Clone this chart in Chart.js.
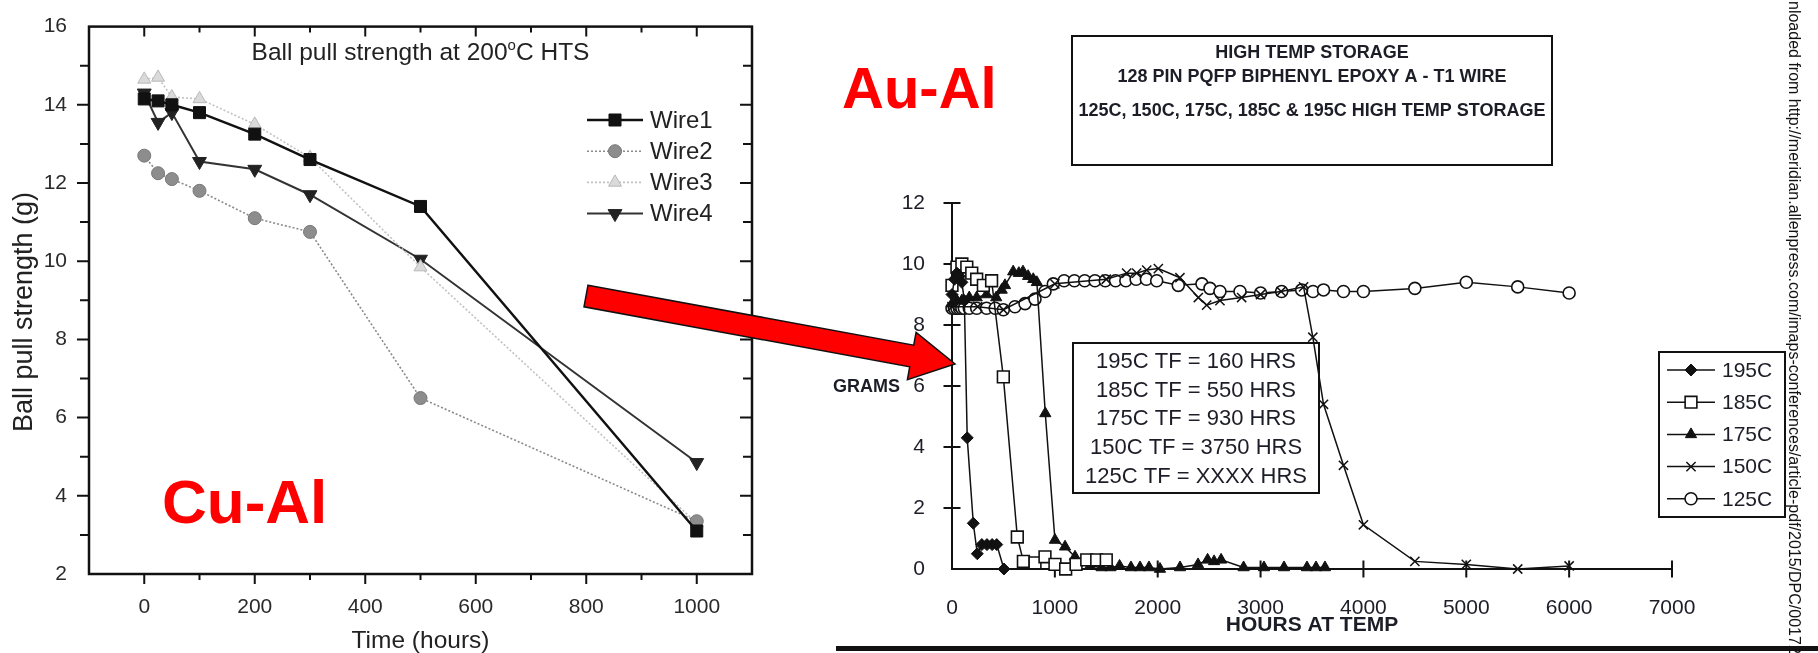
<!DOCTYPE html>
<html>
<head>
<meta charset="utf-8">
<script src="https://cdn.jsdelivr.net/npm/chart.js@4.4.1/dist/chart.umd.min.js"></script>
<style>
  html, body { margin:0; padding:0; background:#fff; }
  body { width:1818px; height:653px; position:relative; overflow:hidden; font-family:"Liberation Sans", Arial, sans-serif; }
  #cl { position:absolute; left:0; top:0; }
  #cr { position:absolute; left:780px; top:0; }
  .tag { position:absolute; color:#f00; font-weight:bold; line-height:1; white-space:nowrap; }
  #cu { left:162px; top:471px; font-size:62px; }
  #au { left:842px; top:59px; font-size:58px; }
  #src { position:absolute; left:1803px; top:1px; transform-origin:0 0; transform:rotate(90deg);
         white-space:nowrap; font-size:16px; line-height:18px; color:#111; }
  #rule { position:absolute; left:836px; top:646px; width:982px; height:5px; background:#111; }
  #arrow { position:absolute; left:0; top:0; }
</style>
</head>
<body>
<canvas id="cl" width="780" height="653"></canvas>
<canvas id="cr" width="1038" height="653"></canvas>
<div class="tag" id="cu">Cu-Al</div>
<div class="tag" id="au">Au-Al</div>
<div id="src">nloaded from http://meridian.allenpress.com/imaps-conferences/article-pdf/2015/DPC/00172</div>
<div id="rule"></div>
<svg id="arrow" width="1818" height="653"><polygon id="arrowPoly" fill="#f00" stroke="#111" stroke-width="1.5"/></svg>
<script>
const FONT = '"Liberation Sans", Arial, Helvetica, sans-serif';

// ---- Cu-Al panel: ball pull strength at 200C HTS
const wireHours = [0, 25, 50, 100, 200, 300, 500, 1000];
const wire1 = [14.15, 14.1, 14.0, 13.8, 13.25, 12.6, 11.4, 3.1];
const wire2 = [12.7, 12.25, 12.1, 11.8, 11.1, 10.75, 6.5, 3.35];
const wire3 = [14.65, 14.7, 14.2, 14.15, 13.5, 12.65, 9.85, 3.3];
const wire4 = [14.3, 13.55, 13.8, 12.55, 12.35, 11.7, 10.05, 4.85];
const wireNames = ['Wire1', 'Wire2', 'Wire3', 'Wire4'];
const leftXLabels = [0, 200, 400, 600, 800, 1000];
const leftYLabels = [2, 4, 6, 8, 10, 12, 14, 16];
const leftTitle = ['Ball pull strength at 200', 'o', 'C HTS'];
const leftXTitle = 'Time (hours)';
const leftYTitle = 'Ball pull strength (g)';

// ---- Au-Al panel: high temp storage, grams vs hours
const h195 = [0, 24, 48, 72, 96, 120, 148, 207, 246, 290, 340, 390, 435, 505];
const g195 = [9.0, 9.5, 9.7, 9.6, 9.4, 8.8, 4.3, 1.5, 0.5, 0.8, 0.8, 0.8, 0.8, 0.0];
const h185 = [0, 48, 96, 144, 192, 240, 305, 385, 499, 635, 694, 807, 904, 1001, 1105, 1206, 1310, 1407, 1500];
const g185 = [9.3, 9.9, 10.0, 9.9, 9.7, 9.5, 9.3, 9.45, 6.3, 1.05, 0.25, 0.2, 0.4, 0.15, 0.0, 0.15, 0.3, 0.3, 0.3];
const h175 = [0, 48, 96, 168, 240, 336, 430, 483, 515, 595, 650, 690, 740, 790, 825, 907, 1001, 1099, 1196,
              1342, 1454, 1541, 1629, 1740, 1828, 1915, 2022, 2217, 2392, 2485, 2548, 2616, 2835, 3033, 3228, 3451, 3539, 3626];
const g175 = [8.7, 8.8, 8.8, 8.9, 8.9, 9.0, 8.9, 9.15, 9.3, 9.75, 9.7, 9.75, 9.6, 9.5, 9.4, 5.1, 0.95, 0.73, 0.4,
              0.1, 0.05, 0.05, 0.1, 0.05, 0.05, 0.05, 0.0, 0.05, 0.15, 0.3, 0.25, 0.3, 0.05, 0.05, 0.05, 0.05, 0.05, 0.05];
const h150 = [0, 250, 500, 1000, 1500, 1698, 1795, 1893, 2006, 2216, 2395, 2476, 2605, 2816, 3000, 3200, 3418, 3508, 3612, 3806, 4000, 4500, 5000, 5500, 6000];
const g150 = [8.6, 8.6, 8.5, 9.35, 9.5, 9.7, 9.7, 9.8, 9.85, 9.55, 8.9, 8.65, 8.8, 8.9, 9.0, 9.1, 9.25, 7.6, 5.4, 3.4, 1.45, 0.25, 0.15, 0.0, 0.1];
const h125 = [0, 24, 48, 72, 96, 120, 168, 240, 336, 420, 499, 612, 710, 807, 904, 985,
              1090, 1190, 1290, 1390, 1490, 1590, 1690, 1790, 1890, 1990,
              2200, 2430, 2508, 2605, 2800, 3000, 3205, 3400, 3510, 3612, 3806, 4000, 4500, 5000, 5500, 6000];
const g125 = [8.55, 8.55, 8.55, 8.55, 8.55, 8.55, 8.55, 8.55, 8.55, 8.55, 8.5, 8.6, 8.7, 8.85, 9.1, 9.35,
              9.45, 9.45, 9.45, 9.45, 9.45, 9.45, 9.45, 9.5, 9.5, 9.45,
              9.3, 9.35, 9.2, 9.1, 9.1, 9.05, 9.1, 9.15, 9.1, 9.15, 9.1, 9.1, 9.2, 9.4, 9.25, 9.05];
const tempNames = ['195C', '185C', '175C', '150C', '125C'];
const rightXLabels = [0, 1000, 2000, 3000, 4000, 5000, 6000, 7000];
const rightYLabels = [0, 2, 4, 6, 8, 10, 12];
const boxTitle = ['HIGH TEMP STORAGE', '128 PIN PQFP BIPHENYL EPOXY A - T1 WIRE', '125C, 150C, 175C, 185C & 195C HIGH TEMP STORAGE'];
const tfNotes = ['195C TF = 160 HRS', '185C TF = 550 HRS', '175C TF = 930 HRS', '150C TF = 3750 HRS', '125C TF = XXXX HRS'];
const rightXTitle = 'HOURS AT TEMP';
const rightYTitle = 'GRAMS';

const pts = (xs, ys) => xs.map((x, i) => ({ x, y: ys[i] }));
const RX = 780; // left edge of the right canvas on the page

function mark(ctx, ds, x, y) {
  ctx.save();
  ctx.fillStyle = ds.pointBackgroundColor; ctx.strokeStyle = ds.pointBorderColor;
  ctx.lineWidth = ds.pointBorderWidth;
  Chart.helpers.drawPoint(ctx, { pointStyle: ds.pointStyle, radius: ds.pointRadius, rotation: ds.pointRotation || 0, borderWidth: ds.pointBorderWidth }, x, y);
  ctx.restore();
}

function legendRow(ctx, ds, xa, xb, y) {
  ctx.save();
  ctx.strokeStyle = ds.borderColor; ctx.lineWidth = ds.borderWidth;
  ctx.setLineDash(ds.borderDash || []);
  ctx.beginPath(); ctx.moveTo(xa, y); ctx.lineTo(xb, y); ctx.stroke();
  ctx.restore();
  mark(ctx, ds, (xa + xb) / 2, y);
}

// frame, ticks, inner title, y title and legend of the Cu-Al chart
const leftDecor = {
  id: 'leftDecor',
  afterDraw(chart) {
    const { ctx, chartArea: a, scales: { x, y } } = chart;
    ctx.save();
    ctx.strokeStyle = '#111';
    ctx.lineWidth = 2.5;
    ctx.strokeRect(a.left, a.top, a.right - a.left, a.bottom - a.top);
    ctx.lineWidth = 2;
    ctx.beginPath();
    x.ticks.forEach(t => {
      if (t.value <= x.min || t.value >= x.max) return;
      const p = x.getPixelForValue(t.value), len = t.value % 200 === 0 ? 10 : 6;
      ctx.moveTo(p, a.bottom); ctx.lineTo(p, a.bottom + len);
      ctx.moveTo(p, a.top); ctx.lineTo(p, a.top + len);
    });
    y.ticks.forEach(t => {
      if (t.value <= y.min || t.value >= y.max) return;
      const p = y.getPixelForValue(t.value), len = t.value % 2 === 0 ? 12 : 9;
      ctx.moveTo(a.left - len, p); ctx.lineTo(a.left, p);
      ctx.moveTo(a.right - len, p); ctx.lineTo(a.right, p);
    });
    ctx.stroke();

    // title inside the plot, with the degree sign as a raised "o"
    ctx.fillStyle = '#222';
    ctx.textBaseline = 'alphabetic'; ctx.textAlign = 'left';
    ctx.font = '24.5px ' + FONT;
    const w1 = ctx.measureText(leftTitle[0]).width, w3 = ctx.measureText(leftTitle[2]).width;
    ctx.font = '15px ' + FONT;
    const w2 = ctx.measureText(leftTitle[1]).width;
    let sx = (a.left + a.right) / 2 - (w1 + w2 + w3) / 2;
    const by = 60;
    ctx.font = '24.5px ' + FONT; ctx.fillText(leftTitle[0], sx, by); sx += w1;
    ctx.font = '15px ' + FONT; ctx.fillText(leftTitle[1], sx, by - 10); sx += w2;
    ctx.font = '24.5px ' + FONT; ctx.fillText(leftTitle[2], sx, by);

    // y title
    ctx.save();
    ctx.translate(25, 312); ctx.rotate(-Math.PI / 2);
    ctx.font = '27px ' + FONT; ctx.textAlign = 'center'; ctx.textBaseline = 'middle';
    ctx.fillText(leftYTitle, 0, 0);
    ctx.restore();

    // legend
    ctx.font = '24px ' + FONT; ctx.textBaseline = 'middle'; ctx.textAlign = 'left';
    chart.data.datasets.forEach((ds, i) => {
      const ly = 120 + i * 31.2;
      legendRow(ctx, ds, 587, 643, ly);
      ctx.fillStyle = '#222';
      ctx.fillText(ds.label, 650, ly + 1);
    });
    ctx.restore();
  }
};

// axes crossing ticks, boxes and legend of the Au-Al chart
const rightDecor = {
  id: 'rightDecor',
  beforeDatasetsDraw(chart) {
    const { ctx, scales: { x, y } } = chart;
    const x0 = x.getPixelForValue(x.min), x1 = x.getPixelForValue(x.max);
    const y0 = y.getPixelForValue(y.min), y1 = y.getPixelForValue(y.max);
    ctx.save();
    ctx.strokeStyle = '#111'; ctx.lineWidth = 2;
    ctx.beginPath();
    ctx.moveTo(x0, y1); ctx.lineTo(x0, y0); ctx.lineTo(x1, y0);
    y.ticks.forEach(t => {
      if (t.value === y.min) return;
      const p = y.getPixelForValue(t.value);
      ctx.moveTo(x0 - 8.5, p); ctx.lineTo(x0 + 8.5, p);
    });
    x.ticks.forEach(t => {
      if (t.value === x.min) return;
      const p = x.getPixelForValue(t.value);
      ctx.moveTo(p, y0 - 8.5); ctx.lineTo(p, y0 + 8.5);
    });
    ctx.stroke();
    ctx.restore();
  },
  afterDraw(chart) {
    const { ctx } = chart;
    ctx.save();
    ctx.fillStyle = '#1d1d28'; ctx.strokeStyle = '#111';

    // y title, horizontal
    ctx.font = 'bold 18px ' + FONT; ctx.textAlign = 'right'; ctx.textBaseline = 'middle';
    ctx.fillText(rightYTitle, 900 - RX, 387);

    // header box
    ctx.lineWidth = 2;
    ctx.strokeRect(1072 - RX, 36, 480, 129);
    ctx.textAlign = 'center'; ctx.textBaseline = 'alphabetic';
    [58, 82, 115.5].forEach((b, i) => ctx.fillText(boxTitle[i], 1312 - RX, b));

    // failure time box
    ctx.strokeRect(1073 - RX, 343, 246, 150);
    ctx.font = '22px ' + FONT;
    tfNotes.forEach((s, i) => ctx.fillText(s, 1196 - RX, 368 + i * 28.7));

    // legend
    ctx.strokeRect(1659 - RX, 352, 126, 165);
    ctx.font = '21px ' + FONT; ctx.textAlign = 'left'; ctx.textBaseline = 'middle';
    chart.data.datasets.forEach((ds, i) => {
      const ly = 370 + i * 32.2;
      legendRow(ctx, ds, 1667 - RX, 1715 - RX, ly);
      ctx.fillStyle = '#1d1d28';
      ctx.fillText(ds.label, 1722 - RX, ly + 1);
    });
    ctx.restore();
  }
};

Chart.defaults.font.family = FONT;

new Chart(document.getElementById('cl'), {
  type: 'scatter',
  data: {
    datasets: [
      { label: wireNames[0], data: pts(wireHours, wire1), showLine: true, clip: false,
        borderColor: '#111', borderWidth: 2.5,
        pointStyle: 'rect', pointRadius: 8.5, pointBackgroundColor: '#111', pointBorderColor: '#111', pointBorderWidth: 1 },
      { label: wireNames[1], data: pts(wireHours, wire2), showLine: true, clip: false,
        borderColor: '#8a8a8a', borderWidth: 1.6, borderDash: [2, 2],
        pointStyle: 'circle', pointRadius: 6.5, pointBackgroundColor: '#8d8d8d', pointBorderColor: '#777', pointBorderWidth: 1 },
      { label: wireNames[2], data: pts(wireHours, wire3), showLine: true, clip: false,
        borderColor: '#c2c2c2', borderWidth: 1.6, borderDash: [2, 2],
        pointStyle: 'triangle', pointRadius: 7.5, pointBackgroundColor: '#dadada', pointBorderColor: '#b8b8b8', pointBorderWidth: 1 },
      { label: wireNames[3], data: pts(wireHours, wire4), showLine: true, clip: false,
        borderColor: '#333', borderWidth: 2,
        pointStyle: 'triangle', pointRotation: 180, pointRadius: 8, pointBackgroundColor: '#222', pointBorderColor: '#222', pointBorderWidth: 1 }
    ]
  },
  options: {
    responsive: false, animation: false, events: [],
    layout: { padding: { top: 18, right: 28, left: 0, bottom: 0 } },
    plugins: { legend: { display: false }, tooltip: { enabled: false } },
    scales: {
      x: {
        type: 'linear', min: -100, max: 1100,
        grid: { display: false }, border: { display: false },
        ticks: { stepSize: 100, autoSkip: false, maxRotation: 0, padding: 13, color: '#2a2a2a', font: { size: 21 },
                 callback: v => leftXLabels.includes(v) ? String(v) : '' },
        title: { display: true, text: leftXTitle, color: '#222', font: { size: 24.5, lineHeight: 1 }, padding: { top: 0, bottom: 0 } },
        afterFit(s) { s.height = 79; }
      },
      y: {
        min: 2, max: 16,
        grid: { display: false }, border: { display: false },
        ticks: { stepSize: 1, autoSkip: false, padding: 14, color: '#2a2a2a', font: { size: 21 },
                 callback: v => leftYLabels.includes(v) ? String(v) : '' },
        afterFit(s) { s.width = 89; }
      }
    }
  },
  plugins: [leftDecor]
});

const lineCol = '#111';
new Chart(document.getElementById('cr'), {
  type: 'scatter',
  data: {
    datasets: [
      { label: tempNames[0], data: pts(h195, g195), showLine: true, clip: false, borderColor: lineCol, borderWidth: 1.5,
        pointStyle: 'rectRot', pointRadius: 6, pointBackgroundColor: '#111', pointBorderColor: '#111', pointBorderWidth: 1 },
      { label: tempNames[1], data: pts(h185, g185), showLine: true, clip: false, borderColor: lineCol, borderWidth: 1.5,
        pointStyle: 'rect', pointRadius: 8.3, pointBackgroundColor: '#fff', pointBorderColor: '#111', pointBorderWidth: 1.6 },
      { label: tempNames[2], data: pts(h175, g175), showLine: true, clip: false, borderColor: lineCol, borderWidth: 1.5,
        pointStyle: 'triangle', pointRadius: 6.5, pointBackgroundColor: '#111', pointBorderColor: '#111', pointBorderWidth: 1 },
      { label: tempNames[3], data: pts(h150, g150), showLine: true, clip: false, borderColor: lineCol, borderWidth: 1.5,
        pointStyle: 'crossRot', pointRadius: 6.5, pointBackgroundColor: '#fff', pointBorderColor: '#111', pointBorderWidth: 1.5 },
      { label: tempNames[4], data: pts(h125, g125), showLine: true, clip: false, borderColor: lineCol, borderWidth: 1.5,
        pointStyle: 'circle', pointRadius: 6, pointBackgroundColor: '#fff', pointBorderColor: '#111', pointBorderWidth: 1.6 }
    ]
  },
  options: {
    responsive: false, animation: false, events: [],
    layout: { padding: { top: 203, right: 1038 - (1672 - RX), left: 0, bottom: 0 } },
    plugins: { legend: { display: false }, tooltip: { enabled: false } },
    scales: {
      x: {
        type: 'linear', min: 0, max: 7000,
        grid: { display: false }, border: { display: false },
        ticks: { stepSize: 1000, autoSkip: false, maxRotation: 0, padding: 19, color: '#1d1d28', font: { size: 21 },
                 callback: v => rightXLabels.includes(v) ? String(v) : '' },
        title: { display: true, text: rightXTitle, color: '#1d1d28', font: { size: 21, weight: 'bold', lineHeight: 1 }, padding: { top: 0, bottom: 17.5 } },
        afterFit(s) { s.height = 84; }
      },
      y: {
        min: 0, max: 12,
        grid: { display: false }, border: { display: false },
        ticks: { stepSize: 2, autoSkip: false, padding: 19, color: '#1d1d28', font: { size: 21 },
                 callback: v => rightYLabels.includes(v) ? String(v) : '' },
        afterFit(s) { s.width = 952 - RX; }
      }
    }
  },
  plugins: [rightDecor]
});

// red arrow from the Cu-Al plot to the Au-Al axis
(function(){
  const tail = [586, 296], tip = [955, 364], shaft = 11, headW = 24, headL = 44;
  const dx = tip[0] - tail[0], dy = tip[1] - tail[1], L = Math.hypot(dx, dy);
  const ux = dx / L, uy = dy / L, nx = -uy, ny = ux;
  const bx = tip[0] - ux * headL, by = tip[1] - uy * headL;
  const P = [
    [tail[0] - nx * shaft, tail[1] - ny * shaft],
    [bx - nx * shaft, by - ny * shaft],
    [bx - nx * headW, by - ny * headW],
    tip,
    [bx + nx * headW, by + ny * headW],
    [bx + nx * shaft, by + ny * shaft],
    [tail[0] + nx * shaft, tail[1] + ny * shaft]
  ];
  document.getElementById('arrowPoly').setAttribute('points', P.map(p => p[0].toFixed(1) + ',' + p[1].toFixed(1)).join(' '));
})();
</script>
</body>
</html>
